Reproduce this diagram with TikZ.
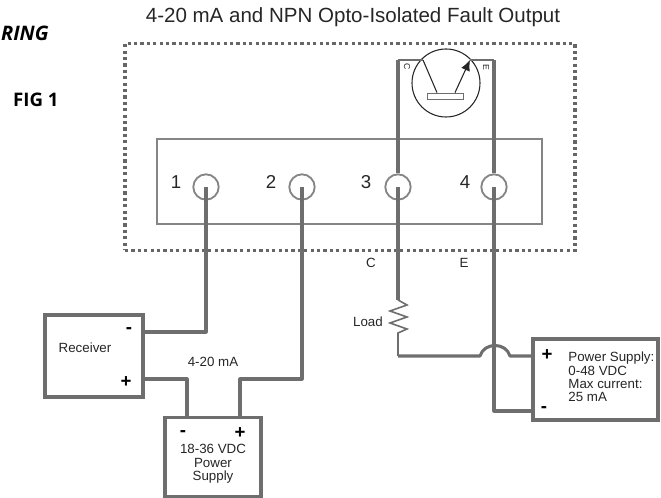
\documentclass[tikz,border=0pt]{standalone}
\usepackage{fontspec}
\setmainfont{Liberation Sans}
\newfontfamily\headfont{Open Sans}
\usetikzlibrary{arrows.meta}
\definecolor{wiregray}{HTML}{6E6E6E}
\definecolor{boxgray}{HTML}{858585}
\definecolor{dotgray}{HTML}{666666}
\definecolor{inkgray}{HTML}{262626}
\begin{document}
\begin{tikzpicture}[x=0.75pt,y=-0.75pt,semithick,
  wire/.style = {draw=wiregray, line width=2.3pt, line join=round},
  device/.style = {draw=wiregray, line width=2.3pt, fill=white, inner sep=0pt},
  terminal/.style = {draw=boxgray, line width=1.4pt, circle, minimum size=19pt, inner sep=0pt},
  thin part/.style = {draw=inkgray, line width=0.8pt},
  label/.style = {text=inkgray, inner sep=0pt, font=\fontsize{10}{10}\selectfont, align=center},
  number/.style = {text=inkgray, inner sep=0pt, font=\fontsize{14}{14}\selectfont},
  sign/.style = {text=black, inner sep=0pt, font=\bfseries\fontsize{14}{14}\selectfont}]
\useasboundingbox (0,0) rectangle (661,498);
% enclosure
\node[draw=dotgray, line width=2.4pt, dash pattern=on 2.4pt off 2.4pt, minimum width=337.5pt, minimum height=155pt, inner sep=0pt] (case) at (350,147) {};
\node[draw=boxgray, line width=1.4pt, minimum width=288.75pt, minimum height=64pt, inner sep=0pt] (strip) at (349.5,181.5) {};
% terminals
\node[terminal] (1) at (206,187) {};
\node[terminal] (2) at (302,187) {};
\node[terminal] (3) at (398,187) {};
\node[terminal] (4) at (494,187) {};
\node[number] (n1) at (176,182) {1};
\node[number] (n2) at (271,182) {2};
\node[number] (n3) at (366,182) {3};
\node[number] (n4) at (465,182) {4};
% boxes
\node[device, minimum width=73.5pt, minimum height=61.5pt] (recv) at (94,356) {};
\node[device, minimum width=72pt, minimum height=59.5pt] (psu) at (213,457) {};
\node[device, minimum width=93.75pt, minimum height=60.75pt] (supply) at (595.5,379.5) {};
% bends
\coordinate (c1) at (398,60);
\coordinate (e1) at (494,60);
\coordinate (b) at (423,60);
\coordinate (a) at (470,60);
\coordinate (r1) at (398,300);
\coordinate (r2) at (398,337);
\coordinate (j1) at (480,356);
\coordinate (j2) at (510,356);
% transistor
\node[thin part, circle, minimum size=51pt, inner sep=0pt] (q) at (446,83) {};
\node[thin part, draw=wiregray, minimum width=27.5pt, minimum height=5pt, inner sep=0pt] (bar) at (445.5,96.5) {};
\draw[thin part] (b) -- (bar.north west -| 437,0);
\draw[thin part, -{Latex[length=8pt,width=7pt]}] (bar.north east -| 455,0) -- (a);
\node[label, font=\fontsize{6.5}{6.5}\selectfont, rotate=-90] (lc) at (407,67) {C};
\node[label, font=\fontsize{6.5}{6.5}\selectfont, rotate=-90] (le) at (486,67) {E};
% wires
\draw[wire, line width=1.2pt] (b) -- (c1);
\draw[wire, line width=1.2pt] (a) -- (e1);
\draw[wire] (c1) -- (3.north);
\draw[wire] (e1) -- (4.north);
\draw[wire] (1.center) |- (recv.east |- 0,332);
\draw[wire] (recv.east |- 0,379) -| (187,417);
\draw[wire] (2.center) -- (302,267);
\draw[wire] (302,267) |- (240,379) -- (240,417);
\draw[wire] (3.center) -- (r1);
\draw[thin part, draw=wiregray, line width=1.2pt] (r1) -- (407,305) -- (390,311) -- (407,317) -- (390,323) -- (407,329) -- (398,333) -- (r2);
\draw[wire, line width=1.6pt] (r2) -- (398,356);
\draw[wire] (398,356) -- (j1) .. controls (484,342) and (506,342) .. (j2) -- (supply.west |- j2);
\draw[wire] (4.center) |- (supply.west |- 0,411);
% texts
\node[text=inkgray, inner sep=0pt, font=\fontsize{15.4}{16}\selectfont] (title) at (353,17) {4-20 mA and NPN Opto-Isolated Fault Output};
\node[anchor=east, inner sep=0pt, font=\headfont\bfseries\itshape\fontsize{15}{15}\selectfont] (head) at (49,33) {RING};
\node[anchor=east, inner sep=0pt, font=\headfont\bfseries\fontsize{14}{14}\selectfont] (fig) at (59,100) {FIG 1};
\node[label] (cc) at (371,263) {C};
\node[label] (ee) at (464,263) {E};
\node[label] (load) at (368,322) {Load};
\node[label] (rname) at (85,348) {Receiver};
\node[label] (ma) at (213,362) {4-20 mA};
\node[sign] (rm) at (129,331) {-};
\node[sign] (rp) at (126,382) {+};
\node[sign] (pm) at (183,434) {-};
\node[sign] (pp) at (240,433) {+};
\node[label] (pname) at (213,464) {18-36 VDC\\Power\\Supply};
\node[sign] (sp) at (547,355) {+};
\node[sign] (sm) at (544,410) {-};
\node[label, align=left, anchor=west] (sname) at (568,377) {Power Supply:\\0-48 VDC\\Max current:\\25 mA};
\end{tikzpicture}
\end{document}
